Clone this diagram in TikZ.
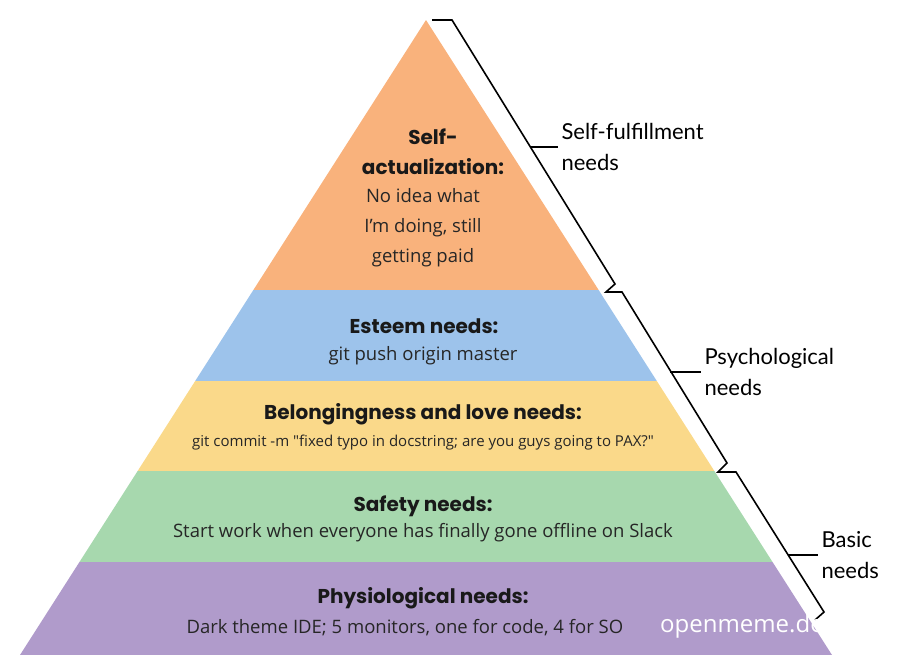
\documentclass[tikz,border=0pt]{standalone}
\usepackage{fontspec}
\setmainfont{Open Sans}
\newfontfamily\headfont{Poppins}
\newfontfamily\sidefont{Lato}
\usetikzlibrary{positioning, calc}

\definecolor{selfcol}{HTML}{F9B27C}
\definecolor{esteemcol}{HTML}{9DC3EB}
\definecolor{lovecol}{HTML}{FAD98A}
\definecolor{safecol}{HTML}{A7D8AE}
\definecolor{physcol}{HTML}{B09BCB}

\begin{document}
\begin{tikzpicture}[x=1pt, y=-1pt
		, heading/.style={font=\headfont\bfseries\fontsize{20}{30}\selectfont, text=black!90}
		, body/.style={font=\fontsize{18.5}{30}\selectfont, text=black!85, align=center}
		, side/.style={font=\sidefont\fontsize{22}{31}\selectfont, align=left, anchor=west}
		, bracket/.style={line width=1.6pt, line join=miter}]

		\useasboundingbox (0,0) rectangle (900,670);

		%%% Pyramid bands
		\begin{scope}
			\clip (426,20) -- (20,655) -- (832,655) -- cycle;
			\foreach \top/\bot/\col in {0/290/selfcol, 290/381/esteemcol, 381/471/lovecol, 471/562/safecol, 562/655/physcol} {
				\fill[\col] (0,\top) rectangle (900,\bot);
			};
		\end{scope}

		%%% Texts
		\node[heading, align=center] (selfhead) at (433,152) {Self-\\actualization:};
		\node[body] (selfbody) at (423,228) {No idea what\\I'm doing, still\\getting paid};
		\node[heading] (esteemhead) at (424,326) {Esteem needs:};
		\node[body] (esteembody) at (423,356) {git push origin master};
		\node[heading] (lovehead) at (423,414) {Belongingness and love needs:};
		\node[body, font=\fontsize{15}{16}\selectfont] (lovebody) at (423,443) {git commit -m \textquotedbl fixed typo in docstring; are you guys going to PAX?\textquotedbl};
		\node[heading] (safehead) at (423,506) {Safety needs:};
		\node[body] (safebody) at (423,533) {Start work when everyone has finally gone offline on Slack};
		\node[heading] (physhead) at (423,598) {Physiological needs:};
		\node[body, anchor=west] (physbody) at (183,628) {Dark theme IDE; 5 monitors, one for code, 4 for SO};

		%%% Brackets
		\coordinate (selftop) at (432,20);
		\coordinate (selfkink) at (615,284);
		\coordinate (psychtop) at (622,292);
		\coordinate (psychkink) at (727,463);
		\coordinate (basictop) at (736,472);
		\coordinate (basicend) at (824,612);

		\draw[bracket] (selftop) -- ++(20,0) -- (selfkink) -- ++(-9,8) -- (psychtop)
			-- (psychkink) -- ++(-9,9) -- (basictop) -- (basicend) -- ++(-9,8);

		%% Ticks and labels
		\node[side] (selflabel) at (558,147) {Self-fulfillment\\needs};
		\draw[bracket] (531,147) -- (selflabel.west);
		\node[side] (psychlabel) at (701,372) {Psychological\\needs};
		\draw[bracket] (670,372) -- (psychlabel.west);
		\node[side] (basiclabel) at (818,555) {Basic\\needs};
		\draw[bracket] (788,555) -- (basiclabel.west);

		%% Watermark
		\node[font=\fontsize{24}{24}\selectfont, text=white, anchor=west, inner sep=0pt] (watermark) at (660,626) {openmeme.dev};
	\end{tikzpicture}
\end{document}
